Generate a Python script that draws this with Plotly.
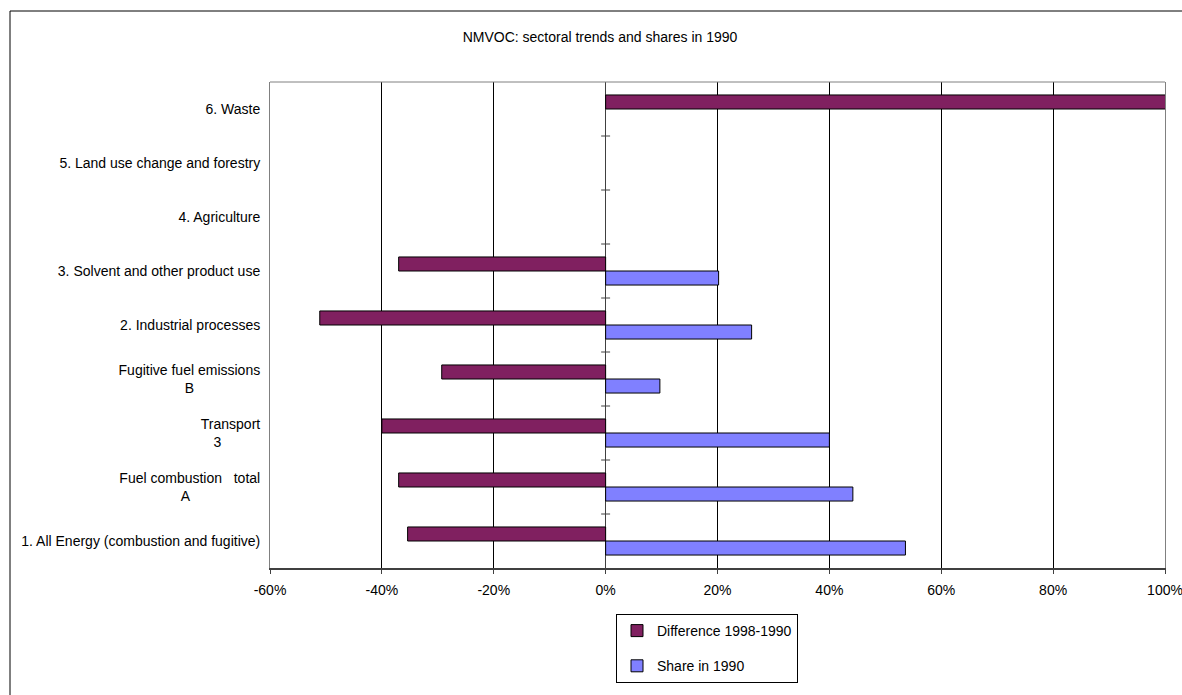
import plotly.graph_objects as go

# Categories bottom -> top
categories = [
    "1. All Energy (combustion and fugitive)",
    "Fuel combustion   total<br>A" + "\u00a0" * 18,
    "Transport<br>3" + "\u00a0" * 10,
    "Fugitive fuel emissions<br>B" + "\u00a0" * 17,
    "2. Industrial processes",
    "3. Solvent and other product use",
    "4. Agriculture",
    "5. Land use change and forestry",
    "6. Waste",
]
difference = [-35.4, -37.0, -40.0, -29.3, -51.1, -37.0, None, None, 124.0]
share = [53.6, 44.2, 40.0, 9.7, 26.1, 20.2, None, None, None]

xtick_vals = [-60, -40, -20, 0, 20, 40, 60, 80, 100]
xtick_text = ["-60%", "-40%", "-20%", "0%", "20%", "40%", "60%", "80%", "100%"]

FONT = "Arial, 'Liberation Sans', sans-serif"
W, H = 1182, 695
L, R, T, B = 270, 1165, 82, 568  # plot area in figure px
PW, PH = R - L, B - T


def px_x(p):
    return (p - L) / PW


def px_y(p):
    return (B - p) / PH


fig = go.Figure()
fig.add_trace(go.Bar(
    y=categories, x=share, orientation="h", name="Share in 1990",
    marker=dict(color="#8080FF", line=dict(color="#000000", width=1)),
    legendrank=2, legendgroup="share",
))
fig.add_trace(go.Bar(
    y=categories, x=difference, orientation="h", name="Difference 1998-1990",
    marker=dict(color="#802060", line=dict(color="#000000", width=1)),
    legendrank=1, legendgroup="diff",
))

shapes = []
# cross ticks on the category axis at zero
for i in range(len(categories) - 1):
    shapes.append(dict(type="line", xref="x", yref="y", x0=-0.8, x1=0.8,
                       y0=i + 0.5, y1=i + 0.5, line=dict(color="#404040", width=1)))
# top border of plot area (gray)
shapes.append(dict(type="line", xref="paper", yref="paper", x0=0, x1=1, y0=1, y1=1,
                   line=dict(color="#808080", width=1)))
# outer chart border
shapes.append(dict(type="rect", xref="paper", yref="paper",
                   x0=px_x(10), x1=px_x(1195), y0=px_y(705), y1=px_y(11),
                   line=dict(color="#000000", width=1), layer="below"))

fig.update_layout(
    width=W, height=H,
    margin=dict(l=L, r=W - R, t=T, b=H - B, autoexpand=False),
    paper_bgcolor="white", plot_bgcolor="white",
    font=dict(family=FONT, size=14, color="#000000"),
    title=dict(text="NMVOC: sectoral trends and shares in 1990",
               x=600 / W, xanchor="center", xref="container",
               y=1 - 37 / H, yanchor="middle",
               font=dict(family=FONT, size=14, color="#000000")),
    barmode="group", bargap=0.48, bargroupgap=0,
    showlegend=True,
    legend=dict(
        x=px_x(616), y=px_y(614), xanchor="left", yanchor="top",
        bordercolor="#000000", borderwidth=1, bgcolor="white",
        traceorder="grouped", tracegroupgap=14,
        font=dict(family=FONT, size=14), entrywidth=195,
    ),
    shapes=shapes,
)
fig.update_xaxes(
    range=[-60, 100], tickvals=xtick_vals, ticktext=xtick_text,
    showgrid=True, gridcolor="#000000", gridwidth=1,
    zeroline=True, zerolinecolor="#404040", zerolinewidth=1,
    showline=True, linecolor="#404040", linewidth=2, mirror=False,
    ticks="outside", ticklen=4, tickcolor="#404040", ticklabelstandoff=4,
    ticklabeloverflow="allow", automargin=False,
    fixedrange=True,
)
fig.update_yaxes(
    type="category", range=[-0.5, len(categories) - 0.5],
    showgrid=False, zeroline=False,
    showline=True, linecolor="#808080", linewidth=1, mirror=True,
    ticks="", ticklabelstandoff=6, automargin=False,
    fixedrange=True,
)

fig.write_html(
    "out.html",
    config={"displayModeBar": False},
    post_script=(
        "document.body.style.margin='0';"
        "document.body.style.overflow='hidden';"
        "document.documentElement.style.overflow='hidden';"
    ),
)
